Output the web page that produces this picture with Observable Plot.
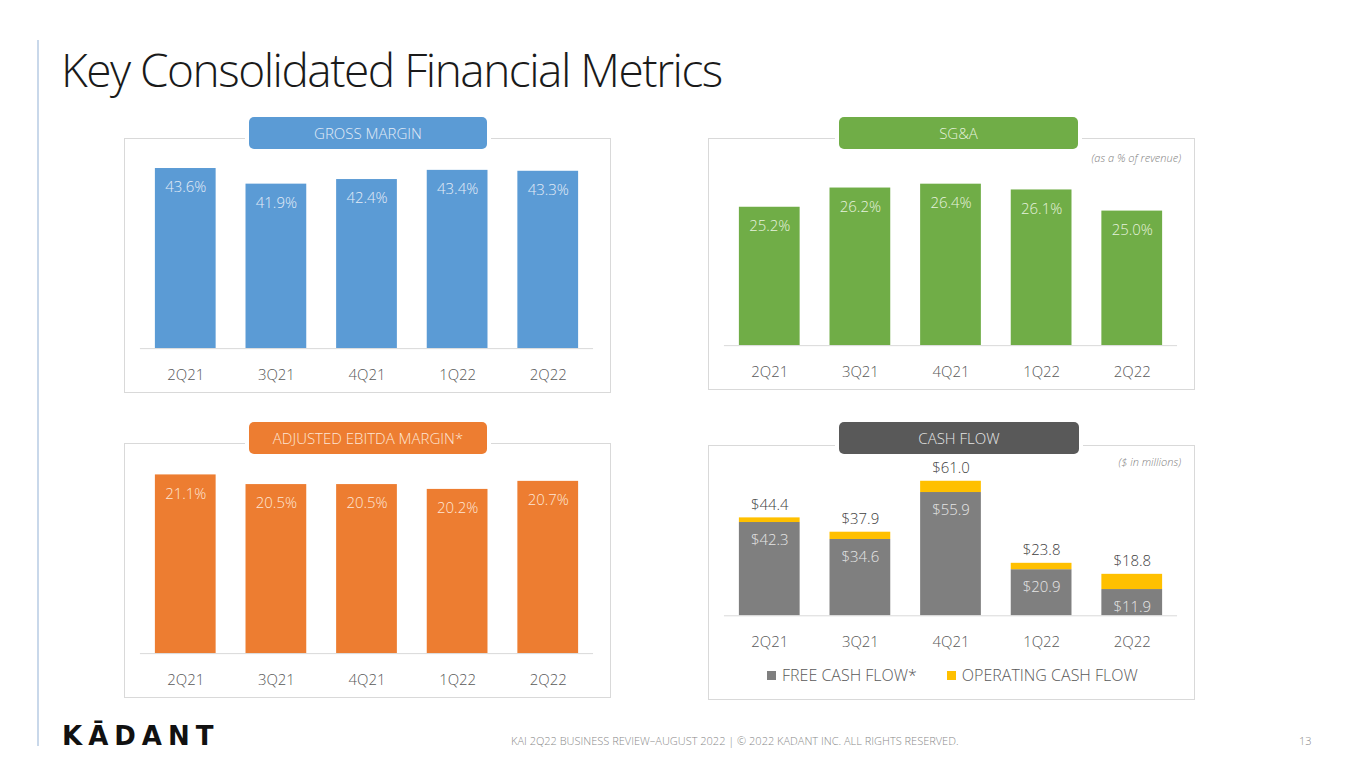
<!DOCTYPE html>
<html>
<head>
<meta charset="utf-8">
<script src="https://cdn.jsdelivr.net/npm/d3@7"></script>
<script src="https://cdn.jsdelivr.net/npm/@observablehq/plot@0.6"></script>
<style>
  html, body { margin: 0; padding: 0; background: #fff; }
  body { width: 1365px; height: 768px; position: relative; overflow: hidden; font-family: "Open Sans", "Noto Sans", sans-serif; }
  .side-rule { position: absolute; left: 37px; top: 40px; width: 2px; height: 706px; background: #c9d8ea; }
  h1 { position: absolute; left: 61px; top: 38px; margin: 0; font-weight: 300; font-size: 46px; letter-spacing: -1.5px; color: #1a1a1a; white-space: nowrap; }
  .box { position: absolute; border: 1px solid #d9d9d9; box-sizing: border-box; }
  .box svg { position: absolute; left: -1px; top: -1px; }
  .pill { position: absolute; border-radius: 5px; text-align: center; font-size: 15px; font-weight: 300; line-height: 32px; height: 32px; box-shadow: 0 0 0 4px #fff; }
  .note { position: absolute; font-size: 11px; font-style: italic; font-weight: 300; color: #7f7f7f; white-space: nowrap; }
  .legend { position: absolute; font-size: 16px; font-weight: 300; color: #595959; white-space: nowrap; }
  .legend span.sw { display: inline-block; width: 9px; height: 9px; margin-right: 6px; vertical-align: 1px; }
  .legend span.item { margin-right: 30px; }
  .logo { position: absolute; left: 62px; top: 721px; font-family: "DejaVu Sans", sans-serif; font-weight: bold; font-size: 26px; letter-spacing: 6px; color: #111; }
  .footer { position: absolute; top: 733px; font-size: 11px; font-weight: 300; color: #8a8a8a; white-space: nowrap; }
</style>
</head>
<body>
<div class="side-rule"></div>
<h1>Key Consolidated Financial Metrics</h1>

<div class="box" id="gm" style="left:124px;top:138px;width:487px;height:255px;"></div>
<div class="pill" style="left:249px;top:117px;width:238px;background:#5b9bd5;color:#e3ecf7;">GROSS MARGIN</div>

<div class="box" id="sga" style="left:708px;top:138px;width:487px;height:252px;"></div>
<div class="pill" style="left:839px;top:117px;width:239px;background:#70ad47;color:#e6f2de;">SG&amp;A</div>
<div class="note" style="right:184px;top:150px;">(as a % of revenue)</div>

<div class="box" id="ebitda" style="left:124px;top:443px;width:487px;height:255px;"></div>
<div class="pill" style="left:249px;top:422px;width:238px;background:#ed7d31;color:#fde6d6;">ADJUSTED EBITDA MARGIN*</div>

<div class="box" id="cash" style="left:708px;top:445px;width:487px;height:255px;"></div>
<div class="pill" style="left:839px;top:422px;width:240px;background:#595959;color:#e6e6e6;">CASH FLOW</div>
<div class="note" style="right:184px;top:454px;">($ in millions)</div>
<div class="legend" id="cash-legend" style="left:767px;top:664px;"></div>

<div class="logo">KĀDANT</div>
<div class="footer" style="left:511px;">KAI 2Q22 BUSINESS REVIEW–AUGUST 2022 | © 2022 KADANT INC. ALL RIGHTS RESERVED.</div>
<div class="footer" style="left:1299px;">13</div>

<script>
// values
var quarters = ["2Q21", "3Q21", "4Q21", "1Q22", "2Q22"];
var grossMargin = [43.6, 41.9, 42.4, 43.4, 43.3];
var sgaPct = [25.2, 26.2, 26.4, 26.1, 25.0];
var ebitdaMargin = [21.1, 20.5, 20.5, 20.2, 20.7];
var freeCashFlow = [42.3, 34.6, 55.9, 20.9, 11.9];
var operatingCashFlow = [44.4, 37.9, 61.0, 23.8, 18.8];
var cashSeries = ["FREE CASH FLOW*", "OPERATING CASH FLOW"];
var cashColors = ["#7f7f7f", "#ffc000"];

var FONT = "Open Sans, Noto Sans, sans-serif";

function xScale() {
  return { domain: quarters, paddingInner: 0.33, paddingOuter: 0.165, label: null };
}

function axisMarks() {
  return Plot.axisX({ tickSize: 0, tickPadding: 21, fontSize: 15, fill: "#595959", fontWeight: 300 });
}

function pctPanel(id, values, opts) {
  var rows = quarters.map(function(q, i) {
    return { q: q, v: values[i] };
  });
  var el = document.getElementById(id);
  var plot = Plot.plot({
    width: 487,
    height: opts.height,
    marginLeft: 16,
    marginRight: 16,
    marginTop: opts.marginTop,
    marginBottom: 44,
    style: { fontFamily: FONT, background: "transparent" },
    x: xScale(),
    y: { domain: opts.domain, axis: null },
    marks: [
      Plot.barY(rows, { x: "q", y1: opts.domain[0], y2: "v", fill: opts.fill }),
      Plot.ruleY([opts.domain[0]], { stroke: "#d9d9d9" }),
      Plot.text(rows, {
        x: "q", y: "v", dy: 19,
        text: function(d) { return d.v.toFixed(1) + "%"; },
        fill: opts.labelFill, fontSize: 15, fontWeight: 300
      }),
      axisMarks()
    ]
  });
  el.appendChild(plot);
}

pctPanel("gm", grossMargin, { height: 255, marginTop: 8, domain: [24, 46], fill: "#5b9bd5", labelFill: "#e3ecf7" });
pctPanel("sga", sgaPct, { height: 252, marginTop: 15, domain: [18, 28], fill: "#70ad47", labelFill: "#e6f2de" });
pctPanel("ebitda", ebitdaMargin, { height: 255, marginTop: 17, domain: [10, 22], fill: "#ed7d31", labelFill: "#fde6d6" });

// cash flow: free cash flow at the bottom, the rest of operating cash flow stacked on top
(function() {
  var stacked = [];
  quarters.forEach(function(q, i) {
    stacked.push({ q: q, series: cashSeries[0], v: freeCashFlow[i] });
    stacked.push({ q: q, series: cashSeries[1], v: +(operatingCashFlow[i] - freeCashFlow[i]).toFixed(1) });
  });
  var totals = quarters.map(function(q, i) {
    return { q: q, fcf: freeCashFlow[i], ocf: operatingCashFlow[i] };
  });
  var plot = Plot.plot({
    width: 487,
    height: 255,
    marginLeft: 16,
    marginRight: 16,
    marginTop: 16,
    marginBottom: 84,
    style: { fontFamily: FONT, background: "transparent" },
    x: xScale(),
    y: { domain: [0, 70], axis: null },
    color: { domain: cashSeries, range: cashColors },
    marks: [
      Plot.barY(stacked, { x: "q", y: "v", fill: "series", order: cashSeries }),
      Plot.ruleY([0], { stroke: "#d9d9d9" }),
      Plot.text(totals, {
        x: "q", y: "fcf", dy: 18,
        text: function(d) { return "$" + d.fcf.toFixed(1); },
        fill: "#e6e6e6", fontSize: 15, fontWeight: 300
      }),
      Plot.text(totals, {
        x: "q", y: "ocf", dy: -13,
        text: function(d) { return "$" + d.ocf.toFixed(1); },
        fill: "#404040", fontSize: 15, fontWeight: 300
      }),
      axisMarks()
    ]
  });
  document.getElementById("cash").appendChild(plot);

  var legend = document.getElementById("cash-legend");
  cashSeries.forEach(function(name, i) {
    var item = document.createElement("span");
    item.className = "item";
    var sw = document.createElement("span");
    sw.className = "sw";
    sw.style.background = cashColors[i];
    item.appendChild(sw);
    item.appendChild(document.createTextNode(name));
    legend.appendChild(item);
  });
})();
</script>
</body>
</html>
